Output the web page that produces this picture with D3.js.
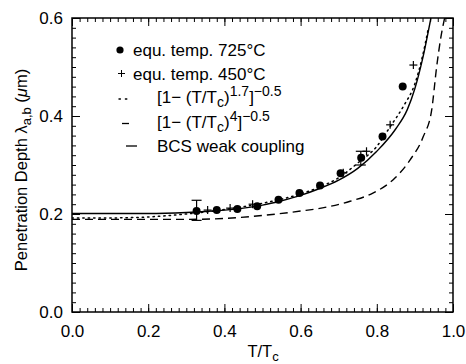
<!DOCTYPE html>
<html>
<head>
<meta charset="utf-8">
<script src="https://cdn.jsdelivr.net/npm/d3@7"></script>
<style>
  body { margin: 0; background: #fff; }
  svg { display: block; }
  text { font-family: "Liberation Sans", Arial, sans-serif; fill: #000; }
</style>
</head>
<body>
<svg id="chart" width="466" height="364"></svg>
<script>
// ---- data ----
const xMajorTicks = [0.0, 0.2, 0.4, 0.6, 0.8, 1.0];
const yMajorTicks = [0.0, 0.2, 0.4, 0.6];
const xTickLabels = ["0.0", "0.2", "0.4", "0.6", "0.8", "1.0"];
const yTickLabels = ["0.0", "0.2", "0.4", "0.6"];

// equ. temp. 725°C (filled circles)
const dots725T = [0.327, 0.380, 0.434, 0.486, 0.542, 0.597, 0.651, 0.705, 0.759, 0.815, 0.868];
const dots725L = [0.206, 0.208, 0.210, 0.216, 0.229, 0.243, 0.258, 0.283, 0.315, 0.358, 0.460];

// equ. temp. 450°C (plus signs)
const plus450T = [0.356, 0.415, 0.474, 0.712, 0.773, 0.835, 0.896];
const plus450L = [0.208, 0.212, 0.220, 0.284, 0.328, 0.382, 0.504];

// error bars [T, low, high]
const errT = [0.327, 0.758];
const errLow = [0.187, 0.300];
const errHigh = [0.228, 0.328];

// curves
const bcsT = [0.0, 0.1, 0.2, 0.3, 0.35, 0.4, 0.45, 0.5, 0.55, 0.6, 0.65, 0.7, 0.75, 0.8, 0.85, 0.88, 0.9, 0.92, 0.942];
const bcsL = [0.201, 0.201, 0.201, 0.203, 0.205, 0.208, 0.212, 0.218, 0.227, 0.238, 0.252, 0.269, 0.293, 0.328, 0.374, 0.413, 0.456, 0.516, 0.600];

const pow17T = [0.0, 0.1, 0.2, 0.3, 0.4, 0.5, 0.6, 0.65, 0.7, 0.75, 0.8, 0.835, 0.87, 0.9, 0.92, 0.935];
const pow17L = [0.192, 0.192, 0.194, 0.200, 0.209, 0.222, 0.241, 0.255, 0.274, 0.304, 0.338, 0.378, 0.420, 0.466, 0.522, 0.578];

const pow4T = [0.0, 0.2, 0.3, 0.4, 0.5, 0.6, 0.668, 0.73, 0.791, 0.843, 0.887, 0.922, 0.944, 0.957, 0.968, 0.978];
const pow4L = [0.189, 0.189, 0.189, 0.191, 0.197, 0.206, 0.214, 0.226, 0.243, 0.270, 0.310, 0.358, 0.412, 0.500, 0.560, 0.600];

// ---- layout ----
const svg = d3.select("#chart");
const L = 72, R = 453, T = 18, B = 312;
const x = d3.scaleLinear().domain([0, 1]).range([L, R]);
const y = d3.scaleLinear().domain([0, 0.6]).range([B, T]);

const xMinor = d3.range(0, 51).map(i => i * 0.02);
const yMinor = d3.range(0, 31).map(i => i * 0.02);

function styleAxis(g) {
  g.select(".domain").remove();
  g.selectAll(".tick line").attr("stroke", "#000").attr("stroke-width", 1);
}

// minor ticks
svg.append("g").attr("transform", `translate(0,${B})`)
  .call(d3.axisBottom(x).tickValues(xMinor).tickSize(-4).tickFormat(""))
  .call(styleAxis);
svg.append("g").attr("transform", `translate(0,${T})`)
  .call(d3.axisTop(x).tickValues(xMinor).tickSize(-4).tickFormat(""))
  .call(styleAxis);
svg.append("g").attr("transform", `translate(${L},0)`)
  .call(d3.axisLeft(y).tickValues(yMinor).tickSize(-4).tickFormat(""))
  .call(styleAxis);
svg.append("g").attr("transform", `translate(${R},0)`)
  .call(d3.axisRight(y).tickValues(yMinor).tickSize(-4).tickFormat(""))
  .call(styleAxis);

// major ticks with labels
const xa = svg.append("g").attr("transform", `translate(0,${B})`)
  .call(d3.axisBottom(x).tickValues(xMajorTicks).tickSize(-8).tickPadding(13)
    .tickFormat((d, i) => xTickLabels[i]))
  .call(styleAxis);
xa.selectAll("text").attr("font-size", 17).attr("font-family", "Liberation Sans, Arial, sans-serif");
svg.append("g").attr("transform", `translate(0,${T})`)
  .call(d3.axisTop(x).tickValues(xMajorTicks).tickSize(-8).tickFormat(""))
  .call(styleAxis);
const ya = svg.append("g").attr("transform", `translate(${L},0)`)
  .call(d3.axisLeft(y).tickValues(yMajorTicks).tickSize(-8).tickPadding(9)
    .tickFormat((d, i) => yTickLabels[i]))
  .call(styleAxis);
ya.selectAll("text").attr("font-size", 17).attr("font-family", "Liberation Sans, Arial, sans-serif");
svg.append("g").attr("transform", `translate(${R},0)`)
  .call(d3.axisRight(y).tickValues(yMajorTicks).tickSize(-8).tickFormat(""))
  .call(styleAxis);

// frame
svg.append("rect").attr("x", L).attr("y", T).attr("width", R - L).attr("height", B - T)
  .attr("fill", "none").attr("stroke", "#000").attr("stroke-width", 1.5);

// clip for curves
svg.append("clipPath").attr("id", "clip").append("rect")
  .attr("x", L).attr("y", T).attr("width", R - L).attr("height", B - T);

const line = d3.line().curve(d3.curveMonotoneX);
const plot = svg.append("g").attr("clip-path", "url(#clip)");

plot.append("path").attr("d", line(bcsT.map((t, i) => [x(t), y(bcsL[i])])))
  .attr("fill", "none").attr("stroke", "#000").attr("stroke-width", 1.4);
plot.append("path").attr("d", line(pow17T.map((t, i) => [x(t), y(pow17L[i])])))
  .attr("fill", "none").attr("stroke", "#000").attr("stroke-width", 1.5)
  .attr("stroke-dasharray", "1.4,4").attr("stroke-linecap", "round");
plot.append("path").attr("d", line(pow4T.map((t, i) => [x(t), y(pow4L[i])])))
  .attr("fill", "none").attr("stroke", "#000").attr("stroke-width", 1.4)
  .attr("stroke-dasharray", "8,5");

// error bars
const eb = svg.append("g").attr("stroke", "#000").attr("stroke-width", 1.2);
errT.forEach((t, i) => {
  eb.append("line").attr("x1", x(t)).attr("x2", x(t)).attr("y1", y(errLow[i])).attr("y2", y(errHigh[i]));
  [errLow[i], errHigh[i]].forEach(v => {
    eb.append("line").attr("x1", x(t) - 5).attr("x2", x(t) + 5).attr("y1", y(v)).attr("y2", y(v));
  });
});

// plus markers
const pl = svg.append("g").attr("stroke", "#000").attr("stroke-width", 1.2);
plus450T.forEach((t, i) => {
  const cx = x(t), cy = y(plus450L[i]);
  pl.append("line").attr("x1", cx - 4).attr("x2", cx + 4).attr("y1", cy).attr("y2", cy);
  pl.append("line").attr("x1", cx).attr("x2", cx).attr("y1", cy - 4).attr("y2", cy + 4);
});

// dots
svg.append("g").selectAll("circle").data(dots725T).join("circle")
  .attr("cx", d => x(d)).attr("cy", (d, i) => y(dots725L[i])).attr("r", 4).attr("fill", "#000");

// legend
const lg = svg.append("g");
const fs = 17;
const sub = 14;
const rows = [50, 73.5, 97, 121.5, 146];
lg.append("circle").attr("cx", 120).attr("cy", rows[0]).attr("r", 3.6).attr("fill", "#000");
lg.append("text").attr("x", 133).attr("y", rows[0] + 6).attr("font-size", fs).text("equ. temp. 725°C");
lg.append("line").attr("x1", 118).attr("x2", 125).attr("y1", rows[1]).attr("y2", rows[1]).attr("stroke", "#000");
lg.append("line").attr("x1", 121.5).attr("x2", 121.5).attr("y1", rows[1] - 3.5).attr("y2", rows[1] + 3.5).attr("stroke", "#000");
lg.append("text").attr("x", 133).attr("y", rows[1] + 6).attr("font-size", fs).text("equ. temp. 450°C");
// dotted sample
lg.append("line").attr("x1", 119).attr("x2", 128).attr("y1", rows[2] + 2).attr("y2", rows[2] + 2)
  .attr("stroke", "#000").attr("stroke-width", 1.4).attr("stroke-dasharray", "1.4,5").attr("stroke-linecap", "round");
const t3 = lg.append("text").attr("x", 157).attr("y", rows[2] + 6).attr("font-size", fs);
t3.append("tspan").text("[1\u2212 (T/T");
t3.append("tspan").attr("font-size", sub).attr("dy", 4).text("c");
t3.append("tspan").attr("dy", -4).text(")");
t3.append("tspan").attr("font-size", sub).attr("dy", -7).text("1.7");
t3.append("tspan").attr("dy", 7).text("]");
t3.append("tspan").attr("font-size", sub).attr("dy", -7).text("\u22120.5");
// dashed sample
lg.append("line").attr("x1", 122).attr("x2", 129).attr("y1", rows[3] + 2).attr("y2", rows[3] + 2)
  .attr("stroke", "#000").attr("stroke-width", 1.3);
const t4 = lg.append("text").attr("x", 157).attr("y", rows[3] + 6).attr("font-size", fs);
t4.append("tspan").text("[1\u2212 (T/T");
t4.append("tspan").attr("font-size", sub).attr("dy", 4).text("c");
t4.append("tspan").attr("dy", -4).text(")");
t4.append("tspan").attr("font-size", sub).attr("dy", -7).text("4");
t4.append("tspan").attr("dy", 7).text("]");
t4.append("tspan").attr("font-size", sub).attr("dy", -7).text("\u22120.5");
// solid sample
lg.append("line").attr("x1", 126).attr("x2", 137).attr("y1", rows[4]).attr("y2", rows[4])
  .attr("stroke", "#000").attr("stroke-width", 1.3);
lg.append("text").attr("x", 157).attr("y", rows[4] + 6).attr("font-size", fs).text("BCS weak coupling");

// axis titles
const xt = svg.append("text").attr("x", 263).attr("y", 357).attr("text-anchor", "middle").attr("font-size", 16.5);
xt.append("tspan").text("T/T");
xt.append("tspan").attr("font-size", 13).attr("dy", 4).text("c");

const yt = svg.append("text").attr("transform", "translate(27,170) rotate(-90)")
  .attr("text-anchor", "middle").attr("font-size", 16.5);
yt.append("tspan").text("Penetration Depth \u03bb");
yt.append("tspan").attr("font-size", 13).attr("dy", 4).text("a,b");
yt.append("tspan").attr("dy", -4).text(" (");
yt.append("tspan").attr("font-style", "italic").text("\u03bc");
yt.append("tspan").text("m)");
</script>
</body>
</html>
